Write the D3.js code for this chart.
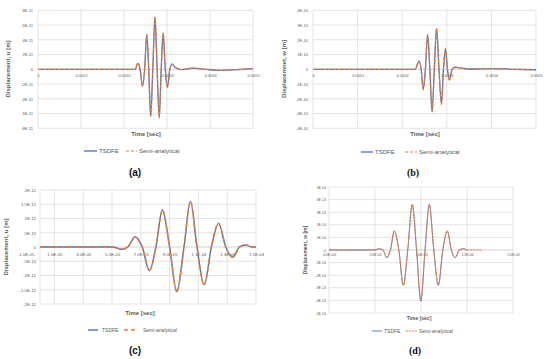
<!DOCTYPE html>
<html><head><meta charset="utf-8">
<script src="https://cdn.jsdelivr.net/npm/d3@7"></script>
<style>body{margin:0;background:#fff}svg{display:block}</style>
</head><body><svg id="c" width="550" height="359"></svg>
<script>
// ---------- Panel (a) ----------
const timeA = [0, 200e-6, 226e-6, 232e-6, 237.5e-6, 243e-6, 248e-6, 253e-6, 257.5e-6, 262e-6, 267e-6, 272e-6, 277e-6, 282e-6, 286.5e-6, 291e-6, 296e-6, 301e-6, 306.5e-6, 312e-6, 318e-6, 326e-6, 335e-6, 360e-6, 390e-6, 420e-6, 460e-6, 500e-6];
const tsdfeA = [0, 0, 0, 0.8e-11, 0, -2.3e-11, 0, 4.7e-11, 0, -6.4e-11, 0, 7.1e-11, 0, -6.55e-11, 0, 4.9e-11, 0, -2.45e-11, 0, 0.7e-11, 0.3e-11, 0.05e-11, -0.05e-11, 0.15e-11, 0, -0.15e-11, -0.05e-11, 0.1e-11];
const semiA = [0, 0, 0, 0.85e-11, 0, -2.35e-11, 0, 4.75e-11, 0, -6.45e-11, 0, 7.15e-11, 0, -6.6e-11, 0, 4.95e-11, 0, -2.5e-11, 0, 0.7e-11, 0.3e-11, 0.05e-11, -0.05e-11, 0.15e-11, 0, -0.15e-11, -0.05e-11, 0.1e-11];
const xTicksAB = [0, 0.0001, 0.0002, 0.0003, 0.0004, 0.0005];
const xLabelsAB = ["0", "0.0001", "0.0002", "0.0003", "0.0004", "0.0005"];
const yTicksA = [-8e-11, -6e-11, -4e-11, -2e-11, 0, 2e-11, 4e-11, 6e-11, 8e-11];
const yLabelsA = ["-8E-11", "-6E-11", "-4E-11", "-2E-11", "0", "2E-11", "4E-11", "6E-11", "8E-11"];

// ---------- Panel (b) ----------
const timeB = [0, 220e-6, 229e-6, 238e-6, 242.5e-6, 247e-6, 252e-6, 257e-6, 262e-6, 267e-6, 272e-6, 277e-6, 282.5e-6, 288e-6, 292.5e-6, 297e-6, 301.5e-6, 306e-6, 312e-6, 318e-6, 330e-6, 350e-6, 400e-6, 450e-6, 500e-6];
const tsdfeB = [0, 0, 0, 0.56e-10, 0, -1.36e-10, 0, 2.33e-10, 0, -2.87e-10, 0, 2.78e-10, 0, -2.35e-10, 0, 1.38e-10, 0, -0.73e-10, 0, 0.14e-10, 0.1e-10, 0.02e-10, 0.05e-10, 0, -0.03e-10];
const semiB = [0, 0, 0, 0.58e-10, 0, -1.4e-10, 0, 2.36e-10, 0, -2.9e-10, 0, 2.8e-10, 0, -2.38e-10, 0, 1.4e-10, 0, -0.75e-10, 0, 0.14e-10, 0.1e-10, 0.02e-10, 0.05e-10, 0, -0.03e-10];
const yTicksB = [-4e-10, -3e-10, -2e-10, -1e-10, 0, 1e-10, 2e-10, 3e-10, 4e-10];
const yLabelsB = ["-4E-10", "-3E-10", "-2E-10", "-1E-10", "0", "1E-10", "2E-10", "3E-10", "4E-10"];

// ---------- Panel (c) ----------
const timeC = [0, 5.0e-5, 5.7e-5, 6.1e-5, 6.6e-5, 7.1e-5, 7.6e-5, 8.05e-5, 8.5e-5, 9.0e-5, 9.5e-5, 10.0e-5, 10.45e-5, 10.9e-5, 11.4e-5, 11.9e-5, 12.4e-5, 12.9e-5, 13.4e-5, 13.85e-5, 14.3e-5, 14.7e-5, 15.0e-5];
const tsdfeC = [0, 0, -0.08e-12, 0, 0.35e-12, 0, -0.83e-12, 0, 1.3e-12, 0, -1.57e-12, 0, 1.6e-12, 0, -1.33e-12, 0, 0.83e-12, 0, -0.36e-12, 0, 0.07e-12, 0, 0];
const semiC = [0, 0, -0.08e-12, 0, 0.35e-12, 0, -0.83e-12, 0, 1.3e-12, 0, -1.57e-12, 0, 1.6e-12, 0, -1.33e-12, 0, 0.83e-12, 0, -0.36e-12, 0, 0.07e-12, 0, 0];
const xTicksC = [-1e-5, 1e-5, 3e-5, 5e-5, 7e-5, 9e-5, 1.1e-4, 1.3e-4, 1.5e-4];
const xLabelsC = ["-1.0E-05", "1.0E-05", "3.0E-05", "5.0E-05", "7.0E-05", "9.0E-05", "1.1E-04", "1.3E-04", "1.5E-04"];
const yTicksC = [-2e-12, -1.5e-12, -1e-12, -5e-13, 0, 5e-13, 1e-12, 1.5e-12, 2e-12];
const yLabelsC = ["-2E-12", "-1.5E-12", "-1E-12", "-5E-13", "0", "5E-13", "1E-12", "1.5E-12", "2E-12"];

// ---------- Panel (d) ----------
const timeD = [0, 5.0e-5, 5.47e-5, 5.87e-5, 6.27e-5, 6.68e-5, 7.1e-5, 7.59e-5, 8.08e-5, 8.56e-5, 9.05e-5, 9.52e-5, 9.98e-5, 10.44e-5, 10.9e-5, 11.39e-5, 11.88e-5, 12.37e-5, 12.86e-5, 13.3e-5, 13.73e-5, 14.17e-5, 14.6e-5, 15.0e-5];
const tsdfeD = [0, 0, 0.1e-14, 0, -0.6e-14, 0, 1.5e-14, 0, -2.8e-14, 0, 3.6e-14, 0, -4.05e-14, 0, 3.6e-14, 0, -2.8e-14, 0, 1.5e-14, 0, -0.6e-14, 0, 0.1e-14, 0];
const timeDSemi = [0, 5.0e-5, 5.47e-5, 5.87e-5, 6.27e-5, 6.68e-5, 7.1e-5, 7.59e-5, 8.08e-5, 8.56e-5, 9.05e-5, 9.52e-5, 9.98e-5, 10.44e-5, 10.9e-5, 11.39e-5, 11.88e-5, 12.37e-5, 12.86e-5, 13.3e-5, 13.73e-5, 14.17e-5, 14.6e-5, 15.0e-5, 16.6e-5];
const semiD = [0, 0, 0.1e-14, 0, -0.6e-14, 0, 1.5e-14, 0, -2.8e-14, 0, 3.6e-14, 0, -4.05e-14, 0, 3.6e-14, 0, -2.8e-14, 0, 1.5e-14, 0, -0.6e-14, 0, 0.1e-14, 0, 0];
const xTicksD = [0, 5e-5, 1e-4, 1.5e-4, 2e-4];
const xLabelsD = ["0.0E+00", "5.0E-05", "1.0E-04", "1.5E-04", "2.0E-04"];
const yTicksD = [-5e-14, -4e-14, -3e-14, -2e-14, -1e-14, 0, 1e-14, 2e-14, 3e-14, 4e-14, 5e-14];
const yLabelsD = ["-5E-14", "-4E-14", "-3E-14", "-2E-14", "-1E-14", "0", "1E-14", "2E-14", "3E-14", "4E-14", "5E-14"];

const seriesNames = ["TSDFE", "Semi-analytical"];
const BLUE = "#4472C4", ORANGE = "#ED7D31", GREY = "#595959";
const SANS = "'Liberation Sans', Arial, sans-serif";
const SERIF = "'Liberation Serif', 'Times New Roman', serif";

const svg = d3.select("#c");
svg.append("rect").attr("width", 550).attr("height", 359).attr("fill", "#fff");

function zip(t, v) { return t.map((x, i) => [x, v[i]]); }

function panel(c) {
  const g = svg.append("g");
  const xs = d3.scaleLinear().domain(c.xDomain).range([c.left, c.right]);
  const ys = d3.scaleLinear().domain(c.yDomain).range([c.bottom, c.top]);
  // horizontal gridlines
  g.append("g").selectAll("line").data(c.yTicks).join("line")
    .attr("x1", c.left).attr("x2", c.right)
    .attr("y1", d => ys(d)).attr("y2", d => ys(d))
    .attr("stroke", d => d === 0 ? "#bfbfbf" : "#d9d9d9").attr("stroke-width", 0.7);
  // vertical gridlines
  const vgrid = [c.xDomain[0]].concat(c.xTicks.filter(d => d > c.xDomain[0] && d <= c.xDomain[1]));
  g.append("g").selectAll("line").data(vgrid).join("line")
    .attr("x1", d => xs(d)).attr("x2", d => xs(d))
    .attr("y1", c.top).attr("y2", c.bottom)
    .attr("stroke", "#d9d9d9").attr("stroke-width", 0.7);
  // x axis labels (at zero line)
  const xa = d3.axisBottom(xs).tickValues(c.xTicks).tickFormat((d, i) => c.xLabels[i])
    .tickSize(0).tickPadding(c.xPad);
  const xg = g.append("g").attr("transform", `translate(0,${ys(0)})`).call(xa)
    .attr("font-size", c.tickFs).attr("font-family", SANS).style("color", GREY);
  xg.select(".domain").remove();
  // y axis labels
  const ya = d3.axisLeft(ys).tickValues(c.yTicks).tickFormat((d, i) => c.yLabels[i])
    .tickSize(0).tickPadding(c.yPad);
  const yg = g.append("g").attr("transform", `translate(${c.left},0)`).call(ya)
    .attr("font-size", c.tickFs).attr("font-family", SANS).style("color", GREY);
  yg.select(".domain").remove();
  // series
  const line = d3.line().x(d => xs(d[0])).y(d => ys(d[1])).curve(d3.curveMonotoneX);
  c.series.forEach(s => {
    g.append("path").datum(zip(s.t, s.v)).attr("d", line)
      .attr("fill", "none").attr("stroke", s.color).attr("stroke-width", s.width)
      .attr("stroke-dasharray", s.dash || null).attr("stroke-linejoin", "round");
  });
  // axis titles
  g.append("text").attr("x", c.xTitle[0]).attr("y", c.xTitle[1]).attr("text-anchor", "middle")
    .attr("font-family", SANS).attr("font-weight", "bold").attr("font-size", c.titleFs)
    .attr("fill", GREY).text("Time [sec]");
  g.append("text").attr("transform", `translate(${c.yTitle[0]},${c.yTitle[1]}) rotate(-90)`)
    .attr("text-anchor", "middle").attr("font-family", SANS).attr("font-weight", "bold")
    .attr("font-size", c.titleFs).attr("fill", GREY).text(c.yTitleText);
  // legend
  const lg = g.append("g");
  c.series.forEach((s, i) => {
    const L = c.legend[i];
    lg.append("line").attr("x1", L[0]).attr("x2", L[1]).attr("y1", c.legendY).attr("y2", c.legendY)
      .attr("stroke", s.color).attr("stroke-width", s.width).attr("stroke-dasharray", s.dash || null);
    lg.append("text").attr("x", L[2]).attr("y", c.legendY).attr("dy", "0.35em")
      .attr("font-family", SANS).attr("font-size", c.legendFs).attr("fill", GREY).text(seriesNames[i]);
  });
  // caption
  g.append("text").attr("x", c.caption[0]).attr("y", c.caption[1]).attr("text-anchor", "middle")
    .attr("font-family", c.captionFont).attr("font-weight", "bold").attr("font-size", 10)
    .attr("fill", "#111").text(c.captionText);
}

panel({
  left: 38, right: 253, top: 10.3, bottom: 128.3,
  xDomain: [0, 0.0005], yDomain: [-8e-11, 8e-11],
  xTicks: xTicksAB, xLabels: xLabelsAB, yTicks: yTicksA, yLabels: yLabelsA,
  xPad: 5, yPad: 5, tickFs: 4, titleFs: 6, legendFs: 6,
  series: [
    { t: timeA, v: tsdfeA, color: BLUE, width: 1.3 },
    { t: timeA, v: semiA, color: ORANGE, width: 1.2, dash: "3,2" }
  ],
  xTitle: [146, 136], yTitle: [10, 69], yTitleText: "Displacement, u [m]",
  legendY: 151, legend: [[84, 97, 99], [126, 137, 139]], legendFs: 6,
  caption: [135, 176], captionText: "(a)", captionFont: SANS
});

panel({
  left: 313, right: 536, top: 10.3, bottom: 128.3,
  xDomain: [0, 0.0005], yDomain: [-4e-10, 4e-10],
  xTicks: xTicksAB, xLabels: xLabelsAB, yTicks: yTicksB, yLabels: yLabelsB,
  xPad: 5, yPad: 5, tickFs: 4, titleFs: 6, legendFs: 6,
  series: [
    { t: timeB, v: tsdfeB, color: BLUE, width: 1.3 },
    { t: timeB, v: semiB, color: ORANGE, width: 1.2, dash: "3,2" }
  ],
  xTitle: [425, 136], yTitle: [286, 69], yTitleText: "Displacemnet, w [m]",
  legendY: 152, legend: [[361, 373, 375], [405, 417, 419]],
  caption: [413, 176], captionText: "(b)", captionFont: SERIF
});

panel({
  left: 40, right: 256, top: 190, bottom: 304,
  xDomain: [0, 1.5e-4], yDomain: [-2e-12, 2e-12],
  xTicks: xTicksC, xLabels: xLabelsC, yTicks: yTicksC, yLabels: yLabelsC,
  xPad: 6, yPad: 4, tickFs: 4.3, titleFs: 6, legendFs: 5,
  series: [
    { t: timeC, v: tsdfeC, color: BLUE, width: 1.4 },
    { t: timeC, v: semiC, color: ORANGE, width: 1.6, dash: "4,3" }
  ],
  xTitle: [140, 315], yTitle: [8, 247], yTitleText: "Displacement, u [m]",
  legendY: 330, legend: [[88, 98, 102], [124, 137, 143]],
  caption: [135, 354], captionText: "(c)", captionFont: SANS
});

panel({
  left: 329, right: 513, top: 187, bottom: 313,
  xDomain: [0, 2e-4], yDomain: [-5e-14, 5e-14],
  xTicks: xTicksD, xLabels: xLabelsD, yTicks: yTicksD, yLabels: yLabelsD,
  xPad: 4, yPad: 3, tickFs: 3.5, titleFs: 5, legendFs: 5,
  series: [
    { t: timeD, v: tsdfeD, color: BLUE, width: 0.9 },
    { t: timeDSemi, v: semiD, color: ORANGE, width: 1.1, dash: "2,1" }
  ],
  xTitle: [419, 320], yTitle: [307, 250], yTitleText: "Displacement, w [m]",
  legendY: 331, legend: [[372, 382, 384], [406, 418, 419]],
  caption: [415, 354], captionText: "(d)", captionFont: SERIF
});
</script>
</body></html>
